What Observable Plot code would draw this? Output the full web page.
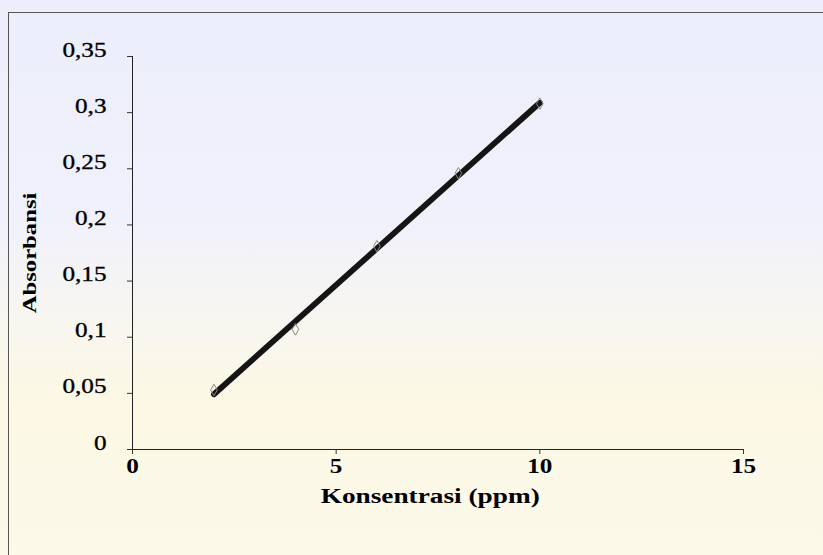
<!DOCTYPE html>
<html>
<head>
<meta charset="utf-8">
<script src="https://cdn.jsdelivr.net/npm/d3@7"></script>
<script src="https://cdn.jsdelivr.net/npm/@observablehq/plot@0.6"></script>
<style>
  html, body { margin: 0; padding: 0; }
  body {
    width: 823px; height: 555px; overflow: hidden; position: relative;
    background: linear-gradient(to bottom, #eceefb 0%, #f0f1fb 40%, #f8f6f0 58%, #fcf8e5 72%, #fdf9ea 100%);
  }
  #frame {
    position: absolute; left: 8px; top: 12px; width: 900px; height: 700px;
    border-left: 1px solid #555; border-top: 1px solid #555;
  }
  #chart { position: absolute; left: 0; top: 0; }
</style>
</head>
<body>
<div id="frame"></div>
<div id="chart"></div>
<script>
// Data
const concentrations = [2, 4, 6, 8, 10];
const absorbances = [0.053, 0.107, 0.181, 0.246, 0.308];
const xTicks = [0, 5, 10, 15];
const yTicks = [0, 0.05, 0.1, 0.15, 0.2, 0.25, 0.3, 0.35];
const xLabel = "Konsentrasi (ppm)";
const yLabel = "Absorbansi";

const data = concentrations.map((x, i) => ({ x, y: absorbances[i] }));
const comma = d => String(d).replace(".", ",");

const chart = Plot.plot({
  width: 823,
  height: 555,
  marginLeft: 132,
  marginRight: 80,
  marginTop: 56,
  marginBottom: 106,
  style: { background: "transparent", fontFamily: "'Liberation Serif', serif", color: "#000", overflow: "visible" },
  x: { domain: [0, 15] },
  y: { domain: [0, 0.35] },
  marks: [
    Plot.ruleY([0], { stroke: "#222", strokeWidth: 1 }),
    Plot.ruleX([0], { stroke: "#222", strokeWidth: 1 }),
    Plot.axisX({
      ticks: xTicks, tickSize: 5, tickPadding: 18, fontSize: 21, fontWeight: "bold",
      stroke: "#333", label: null
    }),
    Plot.axisY({
      ticks: yTicks, tickSize: 5, tickPadding: 21, fontSize: 21,
      tickFormat: comma, stroke: "#333", label: null
    }),
    Plot.axisX({
      ticks: [], label: xLabel, labelAnchor: "center", labelOffset: 53, labelArrow: "none",
      fontSize: 21, fontWeight: "bold"
    }),
    Plot.axisY({
      ticks: [], label: yLabel, labelAnchor: "center", labelOffset: 97, labelArrow: "none",
      fontSize: 19, fontWeight: "bold"
    }),
    Plot.linearRegressionY(data, {
      x: "x", y: "y", ci: 0, stroke: "#151515", strokeWidth: 5.8, strokeLinecap: "round"
    }),
    Plot.dot(data, { x: "x", y: "y", symbol: "diamond", r: 3.5, stroke: "#888", strokeWidth: 1, fill: "none" })
  ]
});

document.getElementById("chart").appendChild(chart);

// Stretch text horizontally (the reference text is wide)
const svg = d3.select(chart);
function stretch(sel, sx) {
  sel.each(function () {
    const x = +this.getAttribute("x") || 0, y = +this.getAttribute("y") || 0;
    this.removeAttribute("x"); this.removeAttribute("y");
    const t = this.getAttribute("transform") || "";
    this.setAttribute("transform", `${t} translate(${x},${y}) scale(${sx},1)`);
  });
}
svg.selectAll('[aria-label="x-axis label"] text, [aria-label="y-axis label"] text')
  .each(function () { this.textContent = this.textContent.replace(/[\u2190-\u2193]/g, "").trim(); })
  .attr("text-anchor", "middle");
svg.selectAll('[aria-label="x-axis tick label"] text').call(stretch, 1.2);
svg.selectAll('[aria-label="y-axis tick label"] text').call(stretch, 1.2)
  .attr("stroke", "#000").attr("stroke-width", 0.35);
svg.selectAll('[aria-label="x-axis label"] text, [aria-label="y-axis label"] text')
  .attr("font-weight", "bold").call(stretch, 1.3);
svg.selectAll('[aria-label="y-axis label"] text').attr("font-size", 19);
svg.selectAll('[aria-label="x-axis label"] text').attr("font-size", 21).attr("dx", -6);
</script>
</body>
</html>
